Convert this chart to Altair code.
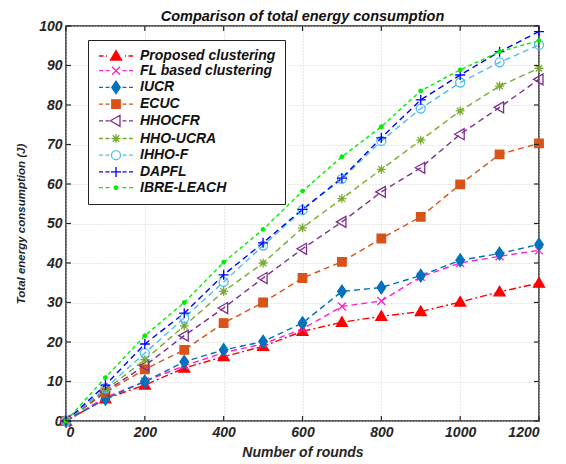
import altair as alt
import pandas as pd

rounds = [0, 100, 200, 300, 400, 500, 600, 700, 800, 900, 1000, 1100, 1200]
proposed = [0, 5.6, 9.1, 13.4, 16.3, 18.9, 22.7, 25.0, 26.5, 27.7, 30.1, 32.7, 34.9]
fl_based = [0, 6.0, 10.0, 14.0, 17.3, 19.5, 23.3, 29.0, 30.4, 36.5, 40.0, 41.7, 43.2]
iucr = [0, 5.6, 10.0, 15.0, 18.0, 20.1, 24.8, 32.8, 33.8, 36.8, 40.7, 42.4, 44.7]
ecuc = [0, 7.2, 13.1, 18.0, 24.8, 30.0, 36.2, 40.3, 46.2, 51.7, 59.9, 67.5, 70.3]
hhocfr = [0, 7.5, 14.0, 21.6, 28.6, 36.2, 43.6, 50.4, 58.0, 64.1, 72.6, 79.4, 86.5]
hho_ucra = [0, 7.8, 15.5, 24.1, 32.8, 40.0, 48.9, 56.3, 63.7, 71.1, 78.5, 84.8, 89.3]
ihho_f = [0, 8.3, 17.2, 26.1, 35.2, 44.4, 53.4, 61.3, 70.9, 79.1, 85.7, 90.8, 95.2]
dapfl = [0, 9.1, 19.5, 27.3, 37.0, 45.1, 53.6, 61.5, 71.7, 81.3, 87.6, 93.5, 98.6]
ibre_leach = [0, 11.0, 21.6, 30.0, 40.2, 48.5, 58.2, 66.9, 74.5, 83.6, 88.9, 93.5, 96.3]

names = ["Proposed clustering", "FL based clustering", "IUCR", "ECUC", "HHOCFR",
         "HHO-UCRA", "IHHO-F", "DAPFL", "IBRE-LEACH"]
series = [proposed, fl_based, iucr, ecuc, hhocfr, hho_ucra, ihho_f, dapfl, ibre_leach]
colors = ["#ff0000", "#ff22cc", "#0072bd", "#d95319", "#7e2f8e", "#77ac30",
          "#4dbeee", "#0000ff", "#00ee00"]
fills = ["#ff0000", "transparent", "#0072bd", "#d95319", "transparent", "transparent",
         "transparent", "transparent", "#00ee00"]
dashes = [[7, 3, 2, 3], [6, 4], [6, 4], [6, 4], [6, 4], [6, 4], [6, 4], [6, 4], [4, 3]]
markers = [
    "M0,-1.1L1.1,0.8L-1.1,0.8Z",
    "M-0.8,-0.8L0.8,0.8M-0.8,0.8L0.8,-0.8",
    "M0,-1.25L0.85,0L0,1.25L-0.85,0Z",
    "M-0.85,-0.85H0.85V0.85H-0.85Z",
    "M-1.1,0L0.8,-1.1L0.8,1.1Z",
    "M-0.9,0H0.9M0,-0.9V0.9M-0.65,-0.65L0.65,0.65M-0.65,0.65L0.65,-0.65",
    "M-0.9,0A0.9,0.9 0 1,0 0.9,0A0.9,0.9 0 1,0 -0.9,0Z",
    "M-1,0H1M0,-1V1",
    "M-0.35,0A0.35,0.35 0 1,0 0.35,0A0.35,0.35 0 1,0 -0.35,0Z",
]
x_ticks = [0, 200, 400, 600, 800, 1000, 1200]
y_ticks = list(range(0, 101, 10))

dash_seg = "M-3.4,0H-2.6M-2.1,0H-1.3M1.3,0H2.1M2.6,0H3.4"
dashdot_seg = "M-3.4,0H-2.5M-2.0,0H-1.8M1.8,0H2.0M2.5,0H3.4"
legend_shapes = [(dashdot_seg if i == 0 else dash_seg) + m for i, m in enumerate(markers)]

rows = []
for n, vals in zip(names, series):
    for r, v in zip(rounds, vals):
        rows.append({"rounds": r, "energy": v, "series": n})
df = pd.DataFrame(rows)

FONT = "Liberation Sans"
W, H, TICK = 473, 395, 5
XS = alt.Scale(domain=[0, 1200], nice=False)
YS = alt.Scale(domain=[0, 100], nice=False)

x_main = alt.X("rounds:Q", title="Number of rounds", scale=XS,
               axis=alt.Axis(values=x_ticks, format="d", grid=True))
y_main = alt.Y("energy:Q", title="Total energy consumption (J)", scale=YS,
               axis=alt.Axis(values=y_ticks, grid=True))

base = alt.Chart(df)

lines = base.mark_line(strokeWidth=1.4).encode(
    x=x_main, y=y_main,
    stroke=alt.Stroke("series:N", scale=alt.Scale(domain=names, range=colors), legend=None),
    strokeDash=alt.StrokeDash("series:N", scale=alt.Scale(domain=names, range=dashes), legend=None),
    detail="series:N",
)

points = base.mark_point(size=100, strokeWidth=1.3, opacity=1).encode(
    x=x_main, y=y_main,
    shape=alt.Shape("series:N", scale=alt.Scale(domain=names, range=markers), legend=None),
    stroke=alt.Stroke("series:N", scale=alt.Scale(domain=names, range=colors), legend=None),
    fill=alt.Fill("series:N", scale=alt.Scale(domain=names, range=fills), legend=None),
)

leg = alt.Legend(
    title=None, orient="none", legendX=22, legendY=14, direction="vertical",
    labelFont=FONT, labelFontSize=14, labelFontWeight="bold",
    labelFontStyle="italic", labelColor="#111111",
    symbolSize=100, symbolStrokeWidth=1.3, symbolOpacity=1,
    symbolOffset=12, labelOffset=17, rowPadding=0.7, padding=9,
    strokeColor="#222222", fillColor="white",
)

empty = base.transform_filter(alt.datum.rounds < 0)

legend_layer = empty.mark_point(size=100, strokeWidth=1.3, opacity=1).encode(
    x=x_main, y=y_main,
    shape=alt.Shape("series:N", scale=alt.Scale(domain=names, range=legend_shapes), legend=leg),
    stroke=alt.Stroke("series:N", scale=alt.Scale(domain=names, range=colors), legend=leg),
    fill=alt.Fill("series:N", scale=alt.Scale(domain=names, range=fills), legend=leg),
)

# inward axis ticks (MATLAB style) on all four sides
xt = alt.Chart(pd.DataFrame({"rounds": x_ticks}))
yt = alt.Chart(pd.DataFrame({"energy": y_ticks}))
tick_style = dict(color="#262626", strokeWidth=1.2)
ticks_bottom = xt.mark_rule(**tick_style).encode(x=x_main, y=alt.value(H), y2=alt.value(H - TICK))
ticks_top = xt.mark_rule(**tick_style).encode(x=x_main, y=alt.value(0), y2=alt.value(TICK))
ticks_left = yt.mark_rule(**tick_style).encode(y=y_main, x=alt.value(0), x2=alt.value(TICK))
ticks_right = yt.mark_rule(**tick_style).encode(y=y_main, x=alt.value(W), x2=alt.value(W - TICK))

chart = alt.layer(lines, points, legend_layer, ticks_bottom, ticks_top, ticks_left,
                  ticks_right).resolve_scale(
    shape="independent", stroke="independent", fill="independent",
    strokeDash="independent",
).resolve_legend(
    shape="independent", stroke="independent", fill="independent",
    strokeDash="independent",
).properties(
    width=W, height=H,
    title=alt.Title("Comparison of total energy consumption", font=FONT, fontSize=14.5,
                    fontWeight="bold", fontStyle="italic", color="#111111", offset=3, dy=8),
    padding={"left": 66, "top": 26, "right": 27, "bottom": 43},
    autosize=alt.AutoSizeParams(type="none"),
).configure_view(
    stroke="#262626", strokeWidth=1.5
).configure_axis(
    gridColor="#d0d0d0", gridDash=[1, 2], gridWidth=1,
    domain=False, ticks=False,
    labelFont=FONT, labelFontSize=14, labelFontWeight="bold", labelFontStyle="italic",
    labelColor="#262626", labelPadding=4,
    titleFont=FONT, titleFontWeight="bold", titleFontStyle="italic",
    titleColor="#262626",
).configure_axisY(
    titleFontSize=11.5, titlePadding=12,
).configure_axisX(
    titleFontSize=14, titlePadding=6,
)

chart.save("out.html", embed_options={"renderer": "svg", "actions": False})
